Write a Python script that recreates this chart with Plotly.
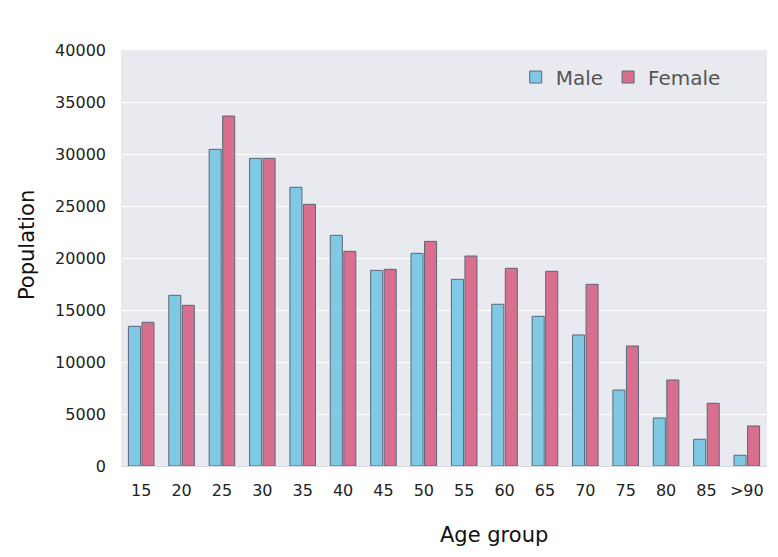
import plotly.graph_objects as go

age_groups = ["15", "20", "25", "30", "35", "40", "45", "50", "55", "60", "65", "70", "75", "80", "85", ">90"]
male = [13430, 16410, 30450, 29580, 26800, 22180, 18810, 20450, 17950, 15550, 14390, 12600, 7300, 4615, 2570, 1030]
female = [13820, 15450, 33650, 29580, 25160, 20640, 18910, 21600, 20190, 19010, 18720, 17470, 11540, 8270, 6030, 3850]
y_ticks = [0, 5000, 10000, 15000, 20000, 25000, 30000, 35000, 40000]
x_title = "Age group"
y_title = "Population"

FONT = "DejaVu Sans, Verdana, sans-serif"

fig = go.Figure()
fig.add_trace(go.Bar(name="Male", x=age_groups, y=male,
                     marker=dict(color="#7FC9E4", line=dict(color="#5A6878", width=1))))
fig.add_trace(go.Bar(name="Female", x=age_groups, y=female,
                     marker=dict(color="#D86F8F", line=dict(color="#5A6878", width=1))))

fig.update_layout(
    width=770, height=549,
    margin=dict(l=113, r=11, t=42, b=91),
    paper_bgcolor="white",
    plot_bgcolor="#E9E9F0",
    barmode="group",
    bargap=0.33,
    bargroupgap=0.11,
    font=dict(family=FONT, color="#222222", size=16),
    legend=dict(orientation="h", x=0.611, y=0.935, xanchor="left", yanchor="middle",
                bgcolor="rgba(0,0,0,0)", font=dict(size=20, color="#555555"),
                itemwidth=30, traceorder="normal"),
    xaxis=dict(
        tickfont=dict(size=16, color="#222222"),
        showgrid=False,
        showline=True, linecolor="#D8D8E2", linewidth=1,
        ticks="", ticklabelstandoff=10,
        automargin=False,
    ),
    yaxis=dict(
        range=[0, 40000],
        tickvals=y_ticks,
        ticktext=[str(v) for v in y_ticks],
        tickfont=dict(size=16, color="#222222"),
        showgrid=True, gridcolor="white", gridwidth=1,
        zeroline=False,
        ticks="", ticklabelstandoff=14,
        automargin=False,
    ),
    annotations=[
        dict(text=x_title, xref="paper", yref="paper", x=0.5774, y=-0.1659,
             xanchor="center", yanchor="middle", showarrow=False,
             font=dict(size=21, color="#111111")),
        dict(text=y_title, xref="paper", yref="paper", x=-0.1455, y=0.531,
             xanchor="center", yanchor="middle", showarrow=False, textangle=-90,
             font=dict(size=21, color="#111111")),
    ],
)

fig.write_html("out.html")
